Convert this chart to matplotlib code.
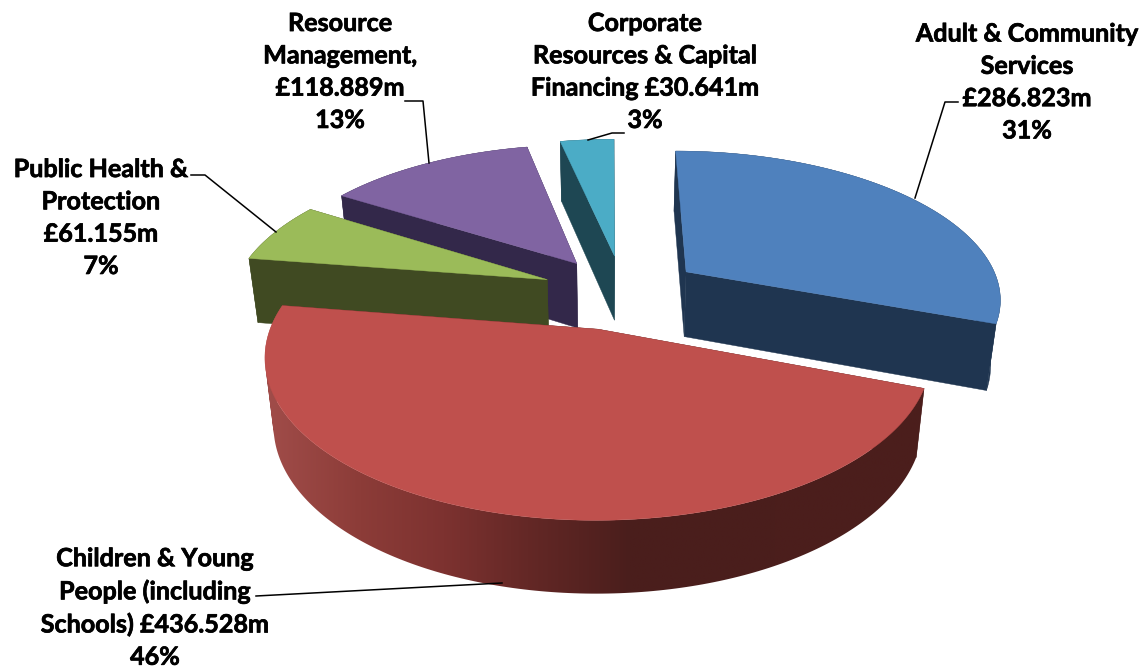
import numpy as np
import matplotlib
matplotlib.use('Agg')
import matplotlib.pyplot as plt
import matplotlib.patheffects as pe
from matplotlib.colors import to_rgb
from matplotlib.path import Path
from matplotlib.patches import PathPatch

# --- data ---
categories = ['Adult & Community\nServices', 'Children & Young\nPeople (including\nSchools)',
              'Public Health &\nProtection', 'Resource\nManagement,',
              'Corporate\nResources & Capital\nFinancing']
values = [286.823, 436.528, 61.155, 118.889, 30.641]
percents = ['31%', '46%', '7%', '13%', '3%']
value_breaks = ['\n', ' ', '\n', '\n', ' ']

# --- style ---
top_colors = ['#4f81bd', '#bf504d', '#9bbb59', '#8064a2', '#4bacc6']
side_colors = ['#1f3550', '#4c1e1c', '#404a22', '#33284a', '#1e4753']
offset_x = [0.247, -0.036, -0.202, -0.109, 0.015]
offset_y = [0.235, -0.15, 0.18, 0.295, 0.35]
draw_order = [4, 3, 2, 0, 1]
red_grad_x = [270, 360, 443, 527, 630, 920]
red_grad_c = ['#a04c49', '#8c3c38', '#7d3230', '#642826', '#4a1e1c', '#4c1e1c']

CX, CY = 610, 306
RX, RY = 320, 151
P = 0.165
DEPTH = 66
BOT_X = 0.975

label_pos = [(1027, 82.5), (155, 608), (101, 218), (340, 72), (645, 72)]
leaders = [[(958, 102), (945, 102), (915, 198)],
           [(256, 596), (502, 583)],
           [(191, 175), (205, 175), (276, 232)],
           [(405, 101), (423, 101), (429, 163)],
           [(624, 133), (612, 133), (588, 140)]]


def project(ang, r, ox, oy):
    wx = r * np.sin(ang) + ox
    wy = r * np.cos(ang) + oy
    s = 1 / (1 + P * wy)
    x = CX + RX * wx * s
    y = CY - RY * wy * s
    bx = CX + (x - CX) * BOT_X
    by = y + DEPTH * np.sqrt(s)
    return x, y, bx, by


def rim_path(x, y, bx, by):
    # one quad per step, all wound the same way so none of them cancel out
    quads = []
    for j in range(len(x) - 1):
        q = np.array([[x[j], y[j]], [x[j + 1], y[j + 1]], [bx[j + 1], by[j + 1]], [bx[j], by[j]]])
        area = np.sum(q[:, 0] * np.roll(q[:, 1], -1) - np.roll(q[:, 0], -1) * q[:, 1])
        if area < 0:
            q = q[::-1]
        quads.append(Path(np.vstack([q, q[:1]]), closed=True))
    return Path.make_compound_path(*quads)


def draw_slice(ax, i, a0, a1):
    ox, oy = offset_x[i], offset_y[i]
    angs = np.linspace(a0, a1, 200)
    x, y, bx, by = project(angs, 1.0, ox, oy)
    x0, y0, bx0, by0 = project(np.array([0.0]), 0.0, ox, oy)

    # radial walls
    for k in (0, -1):
        ax.fill([x0[0], x[k], bx[k], bx0[0]], [y0[0], y[k], by[k], by0[0]],
                color=side_colors[i], lw=0.3, zorder=i_z[i])

    if i == 1:
        # the big slice has a left to right gradient on the rim
        grad = np.array([to_rgb(c) for c in red_grad_c])
        xs = np.linspace(min(x.min(), bx.min()), max(x.max(), bx.max()), 400)
        img = np.stack([np.interp(xs, red_grad_x, grad[:, n]) for n in range(3)], axis=-1)[None, :, :]
        im = ax.imshow(img, extent=[xs[0], xs[-1], by.max(), y.min()], aspect='auto',
                       interpolation='bilinear', zorder=i_z[i])
        im.set_clip_path(PathPatch(rim_path(x, y, bx, by), transform=ax.transData))
    else:
        ax.fill(np.r_[x, bx[::-1]], np.r_[y, by[::-1]], color=side_colors[i], lw=0.3, zorder=i_z[i])

    # top
    ax.fill(np.r_[x0, x], np.r_[y0, y], color=top_colors[i], lw=0.3, zorder=i_z[i] + 0.5)


fig = plt.figure(figsize=(11.44, 6.67), dpi=100)
ax = fig.add_axes([0, 0, 1, 1])
ax.axis('off')

i_z = {s: n + 1 for n, s in enumerate(draw_order)}
edges = np.r_[0, np.cumsum(values)] / np.sum(values) * 2 * np.pi
for i in draw_order:
    draw_slice(ax, i, edges[i], edges[i + 1])
ax.set_xlim(0, 1144)
ax.set_ylim(667, 0)

for i in range(len(values)):
    txt = f"{categories[i]}{value_breaks[i]}£{values[i]:.3f}m\n{percents[i]}"
    ax.text(label_pos[i][0], label_pos[i][1], txt, ha='center', va='center', family='Lato',
            fontweight='bold', fontsize=18.1, linespacing=1.49, color='#000000', zorder=20,
            path_effects=[pe.withStroke(linewidth=0.5, foreground='black')])
    pts = np.array(leaders[i])
    ax.plot(pts[:, 0], pts[:, 1], color='black', lw=1.1, zorder=21)

fig.savefig('out.png', dpi=100)
